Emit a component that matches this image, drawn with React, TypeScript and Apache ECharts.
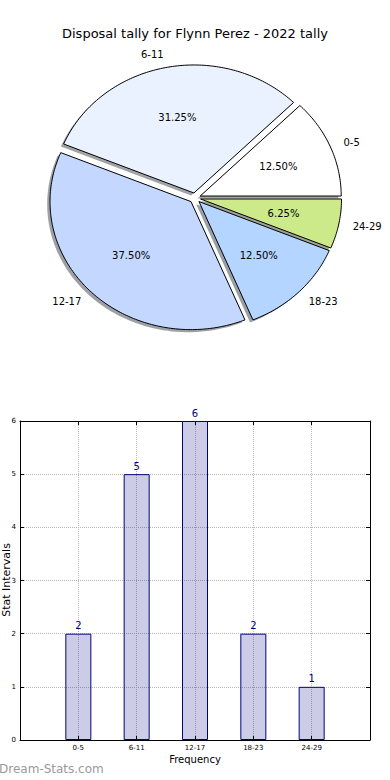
import React, { useEffect, useRef } from 'react';
import * as echarts from 'echarts';

const categories = ['0-5', '6-11', '12-17', '18-23', '24-29'];
const counts = [2, 5, 6, 2, 1];
const sliceColors = ['#ffffff', '#eaf1ff', '#c3d7ff', '#b3d5ff', '#ccea8a'];
const titleText = 'Disposal tally for Flynn Perez - 2022 tally';
const yAxisName = 'Stat Intervals';
const xAxisName = 'Frequency';
const watermark = 'Dream-Stats.com';

const PIE = { cx: 195, cy: 198, rx: 141, ry: 128, explode: 0.04, shadowOff: 0.02 };
const FONT = 'DejaVu Sans';

function shade(hex: string, k: number) {
  const n = parseInt(hex.slice(1), 16);
  const r = Math.round(((n >> 16) & 255) * k);
  const g = Math.round(((n >> 8) & 255) * k);
  const b = Math.round((n & 255) * k);
  return `rgb(${r},${g},${b})`;
}

export default function App() {
  const ref = useRef<HTMLDivElement>(null);
  useEffect(() => {
    document.body.style.margin = '0';
    const chart = echarts.init(ref.current!, null, { renderer: 'svg' });
    const total = counts.reduce((a, b) => a + b, 0);
    const cum: number[] = [];
    let acc = 0;
    counts.forEach((c) => {
      cum.push(acc);
      acc += c;
    });
    const pieData = counts.map((c, i) => [c, cum[i], total]);

    const wedgePoints = (a0: number, a1: number, ox: number, oy: number) => {
      const pts: number[][] = [[ox, oy]];
      const n = Math.max(2, Math.ceil((a1 - a0) / (Math.PI / 180)));
      for (let k = 0; k <= n; k++) {
        const t = a0 + ((a1 - a0) * k) / n;
        pts.push([ox + PIE.rx * Math.cos(t), oy - PIE.ry * Math.sin(t)]);
      }
      return pts;
    };
    const geom = (api: any) => {
      const v = api.value(0);
      const s = api.value(1);
      const tot = api.value(2);
      const a0 = (s / tot) * 2 * Math.PI;
      const a1 = ((s + v) / tot) * 2 * Math.PI;
      const m = (a0 + a1) / 2;
      const ox = PIE.cx + PIE.explode * PIE.rx * Math.cos(m);
      const oy = PIE.cy - PIE.explode * PIE.ry * Math.sin(m);
      return { a0, a1, m, ox, oy, frac: v / tot };
    };

    const barData = counts.map((c, i) => [i, c]);

    chart.setOption({
      animation: false,
      textStyle: { fontFamily: FONT },
      title: {
        text: titleText,
        left: 'center',
        top: 22,
        textStyle: { fontSize: 13, fontWeight: 'normal', color: '#000', fontFamily: FONT },
      },
      graphic: [
        {
          type: 'text',
          left: -1,
          top: 763,
          style: { text: watermark, fontSize: 12, fill: '#9a9a9a', fontFamily: FONT },
        },
        {
          type: 'text',
          x: 6,
          y: 580,
          rotation: Math.PI / 2,
          style: {
            text: yAxisName,
            fontSize: 11,
            fill: '#000',
            fontFamily: FONT,
            align: 'center',
            verticalAlign: 'middle',
          },
        },
      ],
      grid: {
        left: 20,
        right: 20,
        top: 421,
        bottom: 40,
        show: false,
        containLabel: false,
        outerBoundsMode: 'none',
      },
      xAxis: [
        {
          type: 'value',
          min: -1,
          max: 5,
          interval: 1,
          position: 'bottom',
          name: xAxisName,
          nameLocation: 'middle',
          nameGap: 14,
          nameTextStyle: { fontSize: 10, color: '#000', fontFamily: FONT },
          axisLine: { show: true, onZero: false, lineStyle: { color: '#000', width: 1 } },
          axisTick: { show: true, inside: true, length: 4, lineStyle: { color: '#000' } },
          axisLabel: {
            fontSize: 7,
            color: '#000',
            margin: 4,
            formatter: (v: number) => categories[v] ?? '',
          },
          splitLine: { show: true, lineStyle: { type: 'dotted', color: '#b8b8b8', width: 1 } },
        },
        {
          type: 'value',
          min: -1,
          max: 5,
          interval: 1,
          position: 'top',
          axisLine: { show: true, onZero: false, lineStyle: { color: '#000', width: 1 } },
          axisTick: { show: true, inside: true, length: 4, lineStyle: { color: '#000' } },
          axisLabel: { show: false },
          splitLine: { show: false },
        },
      ],
      yAxis: [
        {
          type: 'value',
          min: 0,
          max: 6,
          interval: 1,
          position: 'left',
          axisLine: { show: true, onZero: false, lineStyle: { color: '#000', width: 1 } },
          axisTick: { show: true, inside: true, length: 4, lineStyle: { color: '#000' } },
          axisLabel: { fontSize: 7, color: '#000', margin: 4 },
          splitLine: { show: true, lineStyle: { type: 'dotted', color: '#b8b8b8', width: 1 } },
        },
        {
          type: 'value',
          min: 0,
          max: 6,
          interval: 1,
          position: 'right',
          axisLine: { show: true, onZero: false, lineStyle: { color: '#000', width: 1 } },
          axisTick: { show: true, inside: true, length: 4, lineStyle: { color: '#000' } },
          axisLabel: { show: false },
          splitLine: { show: false },
        },
      ],
      series: [
        {
          type: 'bar',
          xAxisIndex: 0,
          yAxisIndex: 0,
          data: barData,
          barWidth: 26,
          itemStyle: { color: 'rgba(0,0,128,0.2)', borderColor: '#000080', borderWidth: 1 },
          label: {
            show: true,
            position: 'top',
            distance: 3,
            fontSize: 10,
            color: '#000080',
            fontFamily: FONT,
            formatter: (p: any) => String(p.value[1]),
          },
          silent: true,
        },
        {
          type: 'custom',
          coordinateSystem: 'none',
          z: 1,
          silent: true,
          data: pieData,
          renderItem: (params: any, api: any) => {
            const g = geom(api);
            const sx = g.ox - PIE.shadowOff * PIE.rx;
            const sy = g.oy + PIE.shadowOff * PIE.ry;
            return {
              type: 'polygon',
              shape: { points: wedgePoints(g.a0, g.a1, sx, sy) },
              style: { fill: shade(sliceColors[params.dataIndex], 0.3), opacity: 0.5, stroke: 'none' },
            };
          },
        },
        {
          type: 'custom',
          coordinateSystem: 'none',
          z: 2,
          silent: true,
          data: pieData,
          renderItem: (params: any, api: any) => {
            const g = geom(api);
            const i = params.dataIndex;
            const c = Math.cos(g.m);
            const s = Math.sin(g.m);
            return {
              type: 'group',
              children: [
                {
                  type: 'polygon',
                  shape: { points: wedgePoints(g.a0, g.a1, g.ox, g.oy) },
                  style: { fill: sliceColors[i], stroke: '#000', lineWidth: 1, lineJoin: 'miter' },
                },
                {
                  type: 'text',
                  style: {
                    text: categories[i],
                    x: g.ox + 1.1 * PIE.rx * c,
                    y: g.oy - 1.1 * PIE.ry * s,
                    align: c > 0 ? 'left' : 'right',
                    verticalAlign: 'middle',
                    fontSize: 10,
                    fontFamily: FONT,
                    fill: '#000',
                  },
                },
                {
                  type: 'text',
                  style: {
                    text: (g.frac * 100).toFixed(2) + '%',
                    x: g.ox + 0.6 * PIE.rx * c,
                    y: g.oy - 0.6 * PIE.ry * s,
                    align: 'center',
                    verticalAlign: 'middle',
                    fontSize: 10,
                    fontFamily: FONT,
                    fill: '#000',
                  },
                },
              ],
            };
          },
        },
      ],
    });
    return () => chart.dispose();
  }, []);
  return <div ref={ref} style={{ position: 'absolute', left: 0, top: 0, width: 390, height: 780 }} />;
}
